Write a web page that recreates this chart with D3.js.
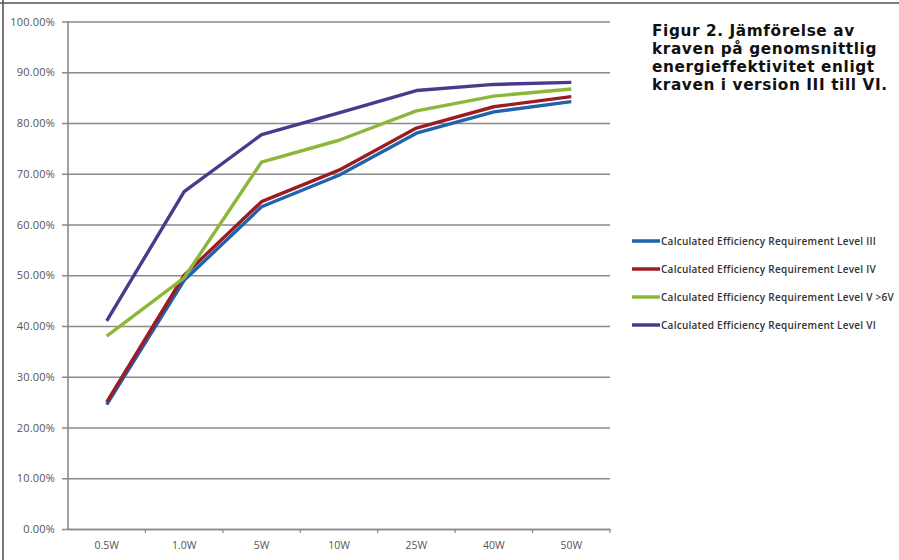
<!DOCTYPE html>
<html>
<head>
<meta charset="utf-8">
<script src="https://cdn.jsdelivr.net/npm/d3@7/dist/d3.min.js"></script>
<style>
  html, body { margin: 0; padding: 0; background: #fff; }
  svg { display: block; }
</style>
</head>
<body>
<svg id="chart" width="899" height="560"></svg>
<script>
// Output power categories (x axis)
const categories = ["0.5W", "1.0W", "5W", "10W", "25W", "40W", "50W"];

// Average efficiency requirement per level, in percent
const levelIII = [24.5, 49.0, 63.5, 69.7, 78.0, 82.2, 84.2];
const levelIV  = [25.0, 50.0, 64.5, 70.7, 79.0, 83.2, 85.2];
const levelV   = [38.0, 49.5, 72.3, 76.6, 82.4, 85.3, 86.7];
const levelVI  = [41.0, 66.5, 77.7, 82.0, 86.4, 87.6, 88.0];

const seriesNames = [
  "Calculated Efficiency Requirement Level III",
  "Calculated Efficiency Requirement Level IV",
  "Calculated Efficiency Requirement Level V >6V",
  "Calculated Efficiency Requirement Level VI"
];
const seriesColors = ["#1f62ae", "#9c1c24", "#8cb83a", "#4a3a8c"];

const yTicks = [0, 10, 20, 30, 40, 50, 60, 70, 80, 90, 100];

const titleLines = [
  "Figur 2. Jämförelse av",
  "kraven på genomsnittlig",
  "energieffektivitet enligt",
  "kraven i version III till VI."
];

const series = [levelIII, levelIV, levelV, levelVI].map((values, i) => ({
  name: seriesNames[i],
  color: seriesColors[i],
  values
}));

const svg = d3.select("#chart");

// Frame lines along the top and left edges
svg.append("line").attr("x1", 0).attr("x2", 899).attr("y1", 3).attr("y2", 3)
  .attr("stroke", "#555").attr("stroke-width", 1.6);
svg.append("line").attr("x1", 3).attr("x2", 3).attr("y1", 0).attr("y2", 560)
  .attr("stroke", "#555").attr("stroke-width", 1.6);

const plot = { left: 68, right: 610, top: 21.5, bottom: 529 };

const x = d3.scaleBand().domain(categories).range([plot.left, plot.right]).padding(0);
const y = d3.scaleLinear().domain([0, 100]).range([plot.bottom, plot.top]);

// Horizontal gridlines with y labels
const yAxis = d3.axisLeft(y)
  .tickValues(yTicks)
  .tickSize(-(plot.right - plot.left))
  .tickPadding(13)
  .tickFormat(d => d3.format(".2f")(d) + "%");

const gy = svg.append("g").attr("transform", `translate(${plot.left},0)`).call(yAxis);
gy.select(".domain").remove();
gy.selectAll(".tick line")
  .attr("x1", -6)
  .attr("stroke", "#8a8a8a").attr("stroke-width", 1.6);
gy.selectAll(".tick text")
  .attr("fill", "#555").attr("font-family", "'Open Sans', sans-serif")
  .attr("font-size", 11).attr("letter-spacing", 0.2);

// Vertical axis line
svg.append("line")
  .attr("x1", plot.left).attr("x2", plot.left)
  .attr("y1", plot.top).attr("y2", plot.bottom)
  .attr("stroke", "#8a8a8a").attr("stroke-width", 1.6);

// Category axis along the bottom
const xAxis = d3.axisBottom(x).tickSize(0).tickPadding(13);
const gx = svg.append("g").attr("transform", `translate(0,${plot.bottom})`).call(xAxis);
gx.select(".domain").attr("stroke", "#8a8a8a").attr("stroke-width", 1.6);
gx.selectAll(".tick text")
  .attr("fill", "#555").attr("font-family", "'Open Sans', sans-serif")
  .attr("font-size", 10.5);

// Small tick marks on category boundaries
const boundaries = categories.map(c => x(c) + x.bandwidth());
svg.append("g").selectAll("line").data(boundaries).join("line")
  .attr("x1", d => d).attr("x2", d => d)
  .attr("y1", plot.bottom).attr("y2", plot.bottom + 4)
  .attr("stroke", "#8a8a8a").attr("stroke-width", 1.2);

// Series lines
const line = d3.line()
  .x((d, i) => x(categories[i]) + x.bandwidth() / 2)
  .y(d => y(d));

svg.append("g").selectAll("path").data(series).join("path")
  .attr("d", d => line(d.values))
  .attr("fill", "none")
  .attr("stroke", d => d.color)
  .attr("stroke-width", 3.4)
  .attr("stroke-linejoin", "round");

// Legend
const legend = svg.append("g").attr("transform", "translate(632,241)");
const items = legend.selectAll("g").data(series).join("g")
  .attr("transform", (d, i) => `translate(0,${i * 28})`);
items.append("line")
  .attr("x1", 0).attr("x2", 28).attr("y1", 0).attr("y2", 0)
  .attr("stroke", d => d.color).attr("stroke-width", 3.5);
items.append("text")
  .attr("x", 29).attr("y", 3.5)
  .attr("font-family", "'Open Sans', sans-serif")
  .attr("font-size", 10).attr("font-weight", 600)
  .attr("letter-spacing", 0.25)
  .attr("fill", "#333")
  .text(d => d.name);

// Figure caption
const title = svg.append("text")
  .attr("x", 652).attr("y", 36)
  .attr("font-family", "'DejaVu Sans', sans-serif")
  .attr("font-weight", "bold")
  .attr("font-size", 15.3)
  .attr("letter-spacing", 0.6)
  .attr("fill", "#111");
title.selectAll("tspan").data(titleLines).join("tspan")
  .attr("x", 652).attr("dy", (d, i) => i === 0 ? 0 : 18)
  .text(d => d);
</script>
</body>
</html>
